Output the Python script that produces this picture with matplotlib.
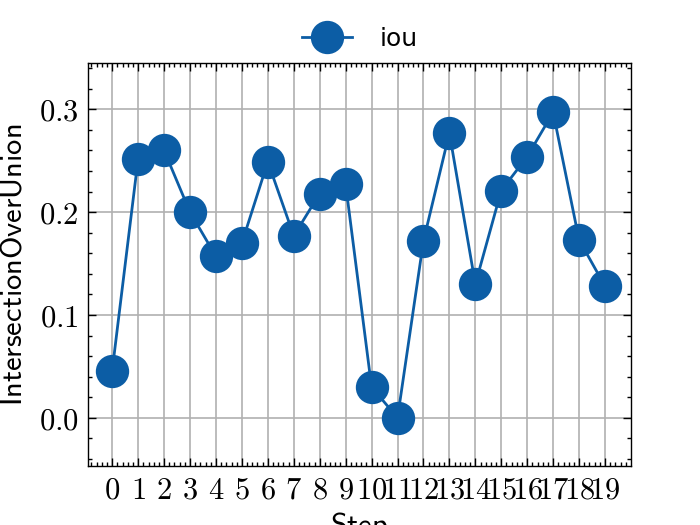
import matplotlib
matplotlib.use('Agg')
import matplotlib.pyplot as plt
from matplotlib.ticker import MultipleLocator, FuncFormatter

steps = list(range(20))
iou = [0.046, 0.252, 0.260, 0.200, 0.157, 0.170, 0.249, 0.177, 0.218, 0.227,
       0.030, 0.000, 0.172, 0.277, 0.130, 0.221, 0.254, 0.297, 0.173, 0.128]

plt.rcParams['mathtext.fontset'] = 'cm'
plt.rcParams['font.size'] = 8
plt.rcParams['axes.linewidth'] = 0.5

fig = plt.figure(figsize=(3.5, 2.625), dpi=200)
ax = fig.add_axes([0.126, 0.112, 0.775, 0.768])

ax.plot(steps, iou, marker='o', color='#0C5DA5', lw=1.0, markersize=11, label='iou')

ax.set_xlim(-0.925, 19.99)
ax.set_ylim(-0.047, 0.345)

ax.xaxis.set_major_locator(MultipleLocator(1))
ax.xaxis.set_minor_locator(MultipleLocator(0.2))
ax.yaxis.set_major_locator(MultipleLocator(0.1))
ax.yaxis.set_minor_locator(MultipleLocator(0.02))
ax.xaxis.set_major_formatter(FuncFormatter(lambda v, p: f'${int(round(v))}$'))
ax.yaxis.set_major_formatter(FuncFormatter(lambda v, p: f'${v:.1f}$'))

ax.tick_params(which='both', direction='in', top=True, right=True, width=0.5,
               labelsize=11)
ax.tick_params(which='major', length=3)
ax.tick_params(which='minor', length=1.5)

ax.grid(True, which='major', color='#b0b0b0', lw=0.6)
ax.set_axisbelow(True)

ax.set_xlabel(r'$\mathsf{Step}$', fontsize=11, labelpad=2)
ax.set_ylabel(r'$\mathsf{IntersectionOverUnion}$', fontsize=11)
ax.legend(loc='lower center', bbox_to_anchor=(0.5, 0.975), frameon=False,
          fontsize=9, handletextpad=1.1)

fig.savefig('out.png', dpi=200)
